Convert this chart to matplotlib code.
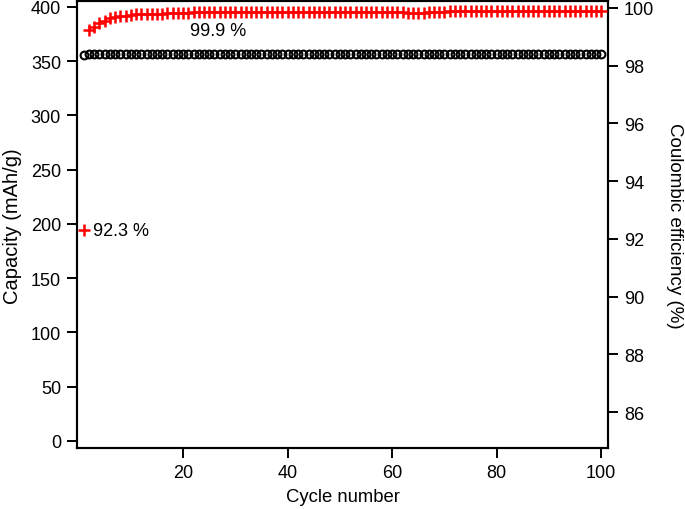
import matplotlib
matplotlib.use("Agg")
import matplotlib.pyplot as plt
import numpy as np

plt.rcParams['font.family'] = ['Liberation Sans', 'DejaVu Sans']
plt.rcParams['font.size'] = 13

# cycle numbers 1..100
cycles = list(range(1, 101))

# discharge capacity (mAh/g)
capacity = [356, 357, 357, 357, 357, 357, 357, 357, 357, 357,
            357, 357, 357, 357, 357, 357, 357, 357, 357, 357,
            357, 357, 357, 357, 357, 357, 357, 357, 357, 357,
            357, 357, 357, 357, 357, 357, 357, 357, 357, 357,
            357, 357, 357, 357, 357, 357, 357, 357, 357, 357,
            357, 357, 357, 357, 357, 357, 357, 357, 357, 357,
            357, 357, 357, 357, 357, 357, 357, 357, 357, 357,
            357, 357, 357, 357, 357, 357, 357, 357, 357, 357,
            357, 357, 357, 357, 357, 357, 357, 357, 357, 357,
            357, 357, 357, 357, 357, 357, 357, 357, 357, 357]

# coulombic efficiency (%)
efficiency = [92.3, 99.25, 99.34, 99.48, 99.56, 99.64, 99.68, 99.71, 99.73, 99.76,
              99.77, 99.78, 99.78, 99.79, 99.79, 99.80, 99.82, 99.83, 99.83, 99.83,
              99.83, 99.84, 99.84, 99.84, 99.85, 99.85, 99.85, 99.86, 99.86, 99.86,
              99.86, 99.87, 99.87, 99.87, 99.87, 99.87, 99.87, 99.87, 99.87, 99.87,
              99.87, 99.87, 99.87, 99.87, 99.87, 99.87, 99.87, 99.87, 99.87, 99.87,
              99.87, 99.87, 99.87, 99.87, 99.87, 99.87, 99.87, 99.87, 99.87, 99.87,
              99.87, 99.86, 99.83, 99.83, 99.83, 99.83, 99.84, 99.84, 99.85, 99.86,
              99.88, 99.89, 99.89, 99.89, 99.89, 99.89, 99.89, 99.89, 99.89, 99.89,
              99.89, 99.89, 99.89, 99.89, 99.89, 99.89, 99.89, 99.89, 99.89, 99.89,
              99.89, 99.89, 99.89, 99.89, 99.89, 99.89, 99.89, 99.89, 99.89, 99.89]

fig = plt.figure(figsize=(6.85, 5.10), dpi=100)
ax = fig.add_axes([0.1124, 0.1196, 0.7752, 0.8755])
ax2 = ax.twinx()

ax.plot(cycles, capacity, linestyle='none', marker='o', markersize=5.6,
        markerfacecolor='none', markeredgecolor='black', markeredgewidth=1.5, zorder=3)
ax2.plot(cycles, efficiency, linestyle='none', marker='+', markersize=9,
         markeredgecolor='#ff0000', markeredgewidth=1.8, zorder=4)

ax.set_xlim(-0.3, 101.3)
ax.set_ylim(-6.5, 405)
ax2.set_ylim(84.76, 100.22)

ax.set_xticks([20, 40, 60, 80, 100])
ax.set_yticks(np.arange(0, 401, 50))
ax2.set_yticks(np.arange(86, 101, 2))

for a in (ax, ax2):
    for s in a.spines.values():
        s.set_linewidth(1.5)
    a.tick_params(direction='out', length=7, width=1.4, labelsize=13, pad=4.5)

ax.set_xlabel("Cycle number", fontsize=13.3, labelpad=5)
ax.set_ylabel("Capacity (mAh/g)", fontsize=14.5, labelpad=6)
ax2.set_ylabel("Coulombic efficiency (%)", fontsize=13.5, rotation=-90, labelpad=21)

ax2.text(26.7, 99.22, "99.9 %", ha='center', va='center', fontsize=13)
ax2.text(2.8, 92.28, "92.3 %", ha='left', va='center', fontsize=13)

fig.savefig("out.png", dpi=100)
